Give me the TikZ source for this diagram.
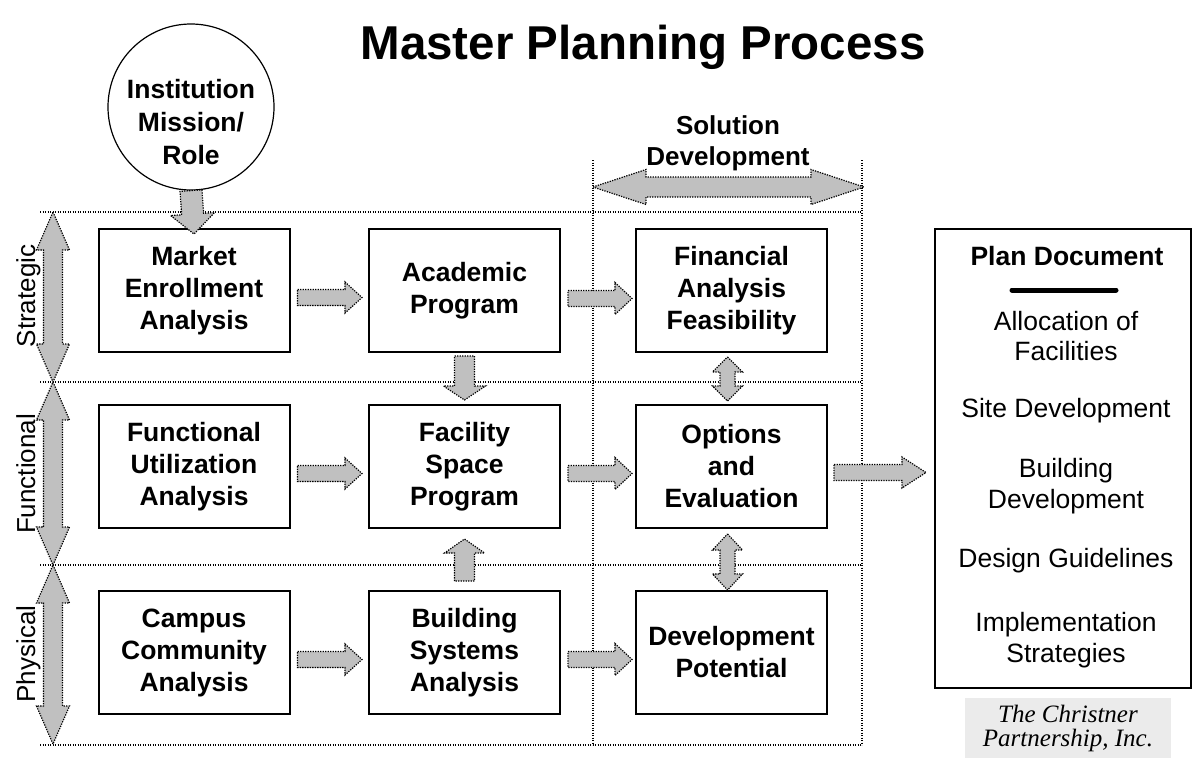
\documentclass[tikz,border=0pt]{standalone}
\usepackage{fontspec}
\setmainfont{Liberation Sans}
\newfontfamily\timesfam{Liberation Serif}
\usetikzlibrary{calc}
\definecolor{arrowgray}{RGB}{192,192,192}
\definecolor{creditgray}{RGB}{235,235,235}
\tikzset{
  box/.style={draw, line width=2pt, minimum width=191pt, minimum height=123pt, align=center,
    font=\fontsize{26.5}{32}\selectfont\bfseries, inner sep=0pt},
  guide/.style={line width=1.2pt, dash pattern=on 1.3pt off 1.2pt},
  blockarrow/.style={fill=arrowgray, line width=1.2pt, dash pattern=on 1.3pt off 1.2pt, line join=miter},
  plantext/.style={align=center, font=\fontsize{26.5}{30.5}\selectfont},
  sidelabel/.style={rotate=90, anchor=base, font=\fontsize{26}{30}\selectfont},
}
% single block arrow: start, tip, shaft half-width, head half-width, head length
\newcommand\sarrow[5]{%
  \coordinate (bp) at #1; \coordinate (bq) at #2;
  \coordinate (bh) at ($(bq)!#5pt!(bp)$);
  \draw[blockarrow] ($(bp)!#3pt!90:(bq)$) -- ($(bh)!#3pt!90:(bq)$) -- ($(bh)!#4pt!90:(bq)$) -- (bq)
    -- ($(bh)!#4pt!-90:(bq)$) -- ($(bh)!#3pt!-90:(bq)$) -- ($(bp)!#3pt!-90:(bq)$) -- cycle;}
% double block arrow
\newcommand\darrow[5]{%
  \coordinate (bp) at #1; \coordinate (bq) at #2;
  \coordinate (bha) at ($(bp)!#5pt!(bq)$);
  \coordinate (bhb) at ($(bq)!#5pt!(bp)$);
  \draw[blockarrow] (bp) -- ($(bha)!#4pt!90:(bq)$) -- ($(bha)!#3pt!90:(bq)$) -- ($(bhb)!#3pt!90:(bq)$)
    -- ($(bhb)!#4pt!90:(bq)$) -- (bq) -- ($(bhb)!#4pt!-90:(bq)$) -- ($(bhb)!#3pt!-90:(bq)$)
    -- ($(bha)!#3pt!-90:(bq)$) -- ($(bha)!#4pt!-90:(bq)$) -- cycle;}
\begin{document}
\begin{tikzpicture}[x=1pt,y=-1pt]
\useasboundingbox (0,0) rectangle (1194,764);

% title
\node[font=\fontsize{47.5}{52}\selectfont\bfseries] (title) at (643,47) {Master Planning Process};

% guide lines
\coordinate (g1l) at (40,212); \coordinate (g1r) at (862,212);
\coordinate (g2l) at (40,382); \coordinate (g2r) at (862,382);
\coordinate (g3l) at (40,565); \coordinate (g3r) at (862,565);
\coordinate (g4l) at (40,745); \coordinate (g4r) at (862,745);
\coordinate (v1t) at (593,160); \coordinate (v1b) at (593,745);
\coordinate (v2t) at (862,160); \coordinate (v2b) at (862,745);
\draw[guide] (g1l) -- (g1r);
\draw[guide] (g2l) -- (g2r);
\draw[guide] (g3l) -- (g3r);
\draw[guide] (g4l) -- (g4r);
\draw[guide] (v1t) -- (v1b);
\draw[guide] (v2t) -- (v2b);

% circle
\node[draw, circle, line width=1.2pt, minimum size=166pt, inner sep=0pt] (circ) at (191,107) {};
\node[align=center, font=\fontsize{26.5}{33}\selectfont\bfseries] (circtext) at (191,122) {Institution\\Mission/\\Role};

% boxes
\node[box] (mkt)  at (194,290.5) {Market\\Enrollment\\Analysis};
\node[box] (acad) at (464.5,290.5) {Academic\\Program};
\node[box] (fin)  at (731.5,290.5) {Financial\\Analysis\\Feasibility};
\node[box] (fun)  at (194,466.5) {Functional\\Utilization\\Analysis};
\node[box] (fac)  at (464.5,466.5) {Facility\\Space\\Program};
\node[box] (opt)  at (731.5,466.5) {Options\\and\\Evaluation};
\node[box] (cam)  at (194,652.5) {Campus\\Community\\Analysis};
\node[box] (bld)  at (464.5,652.5) {Building\\Systems\\Analysis};
\node[box] (dev)  at (731.5,652.5) {Development\\Potential};

% plan document
\node[draw, line width=2pt, minimum width=256pt, minimum height=459pt] (plan) at (1063,458.5) {};
\node[plantext, font=\fontsize{26.5}{30}\selectfont\bfseries] (pd) at (1067,256) {Plan Document};
\coordinate (barl) at (1012,290); \coordinate (barr) at (1116,290);
\draw[line width=5pt, line cap=round] (barl) -- (barr);
\node[plantext] (p1) at (1066,336) {Allocation of\\Facilities};
\node[plantext] (p2) at (1066,411) {Site Development};
\node[plantext] (p3) at (1066,486) {Building\\Development};
\node[plantext] (p4) at (1066,561) {Design Guidelines};
\node[plantext] (p5) at (1066,640) {Implementation\\Strategies};

% credit
\node[fill=creditgray, minimum width=206pt, minimum height=60pt, align=center,
  font=\fontsize{25}{24}\selectfont\timesfam\itshape, inner sep=0pt] (credit) at (1068,728) {The Christner\\Partnership, Inc.};

% side labels
\node[sidelabel] (lstrat) at (35,296) {Strategic};
\node[sidelabel] (lfunc) at (35,474) {Functional};
\node[sidelabel] (lphys) at (35,654) {Physical};

% solution development
\node[align=center, font=\fontsize{26}{31}\selectfont\bfseries] (sol) at (728,143) {Solution\\Development};

% side double arrows
\coordinate (a1t) at (53,212); \coordinate (a1b) at (53,382);
\coordinate (a2t) at (53,382); \coordinate (a2b) at (53,565);
\coordinate (a3t) at (53,565); \coordinate (a3b) at (53,744);
\darrow{(a1t)}{(a1b)}{9.5}{16.5}{38}
\darrow{(a2t)}{(a2b)}{9.5}{16.5}{38}
\darrow{(a3t)}{(a3b)}{9.5}{16.5}{38}

% solution arrow
\coordinate (sl) at (593,187); \coordinate (sr) at (864,187);
\darrow{(sl)}{(sr)}{10}{17.5}{53}

% circle to market
\sarrow{(circ.south)}{([yshift=-6pt]mkt.north)}{11}{22}{20}

% horizontal arrows
\sarrow{([xshift=7pt,yshift=-7pt]mkt.east)}{([xshift=-6pt,yshift=-7pt]acad.west)}{8}{15.5}{17}
\sarrow{([xshift=7pt,yshift=-8pt]acad.east)}{([xshift=-3pt,yshift=-8pt]fin.west)}{8}{16}{17}
\sarrow{([xshift=7pt,yshift=-7pt]fun.east)}{([xshift=-6pt,yshift=-7pt]fac.west)}{8}{15.5}{17}
\sarrow{([xshift=7pt,yshift=-7pt]fac.east)}{([xshift=-3pt,yshift=-7pt]opt.west)}{8}{16}{17}
\sarrow{([xshift=7pt,yshift=-7pt]cam.east)}{([xshift=-6pt,yshift=-7pt]bld.west)}{8}{15.5}{17}
\sarrow{([xshift=7pt,yshift=-7pt]bld.east)}{([xshift=-3pt,yshift=-7pt]dev.west)}{8}{16}{17}
\coordinate (planin) at (plan.west |- opt.east);
\sarrow{([xshift=6pt,yshift=-6pt]opt.east)}{([xshift=-8pt,yshift=-6pt]planin)}{8}{15.5}{24}

% vertical arrows
\sarrow{([yshift=-3pt]acad.south)}{([yshift=4pt]fac.north)}{10}{21}{14}
\sarrow{([yshift=9pt]bld.north)}{([yshift=-10pt]fac.south)}{10}{20}{14}
\darrow{([xshift=-4pt,yshift=-4pt]fin.south)}{([xshift=-4pt,yshift=3pt]opt.north)}{7.5}{15}{15}
\darrow{([xshift=-4pt,yshift=-5pt]opt.south)}{([xshift=-4pt]dev.north)}{7.5}{15}{16}
\end{tikzpicture}
\end{document}
